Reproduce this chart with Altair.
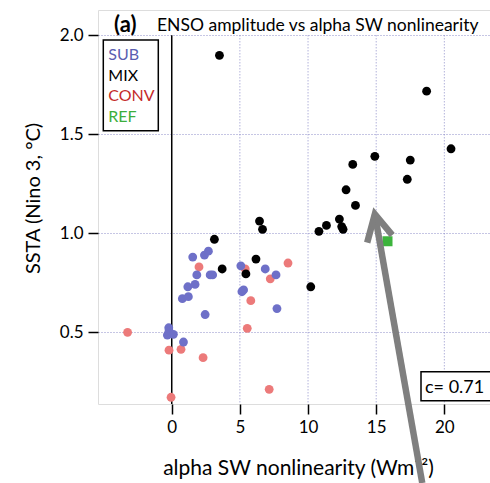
import altair as alt
import pandas as pd

# ---- data ----
sub_x = [1.54, 2.40, 2.69, 1.84, 2.82, 3.00, 5.07, 6.86, 7.65, 1.18, 1.71, 0.78, 1.22,
         5.15, 5.27, 2.45, 7.72, -0.22, -0.20, -0.32, 0.12, 0.86]
sub_y = [0.88, 0.89, 0.91, 0.79, 0.79, 0.79, 0.836, 0.82, 0.79, 0.73, 0.742, 0.67, 0.68,
         0.705, 0.714, 0.59, 0.62, 0.523, 0.506, 0.486, 0.49, 0.451]

mix_x = [3.50, 3.13, 6.44, 6.66, 3.70, 5.44, 6.18, 10.2, 10.8, 11.35, 12.3, 12.47, 12.57,
         13.48, 12.79, 13.28, 14.9, 17.5, 17.28, 18.7, 20.49]
mix_y = [1.899, 0.97, 1.062, 1.02, 0.82, 0.795, 0.87, 0.73, 1.01, 1.04, 1.072, 1.034, 1.02,
         1.141, 1.22, 1.348, 1.389, 1.37, 1.273, 1.718, 1.427]

conv_x = [2.0, 5.39, 7.23, 8.53, 5.8, -3.24, -0.2, 0.68, 2.3, 5.54, 7.15, -0.05]
conv_y = [0.83, 0.82, 0.77, 0.85, 0.66, 0.50, 0.41, 0.414, 0.372, 0.52, 0.212, 0.172]

ref_x = [15.83]
ref_y = [0.96]

legend_labels = ["SUB", "MIX", "CONV", "REF"]
legend_colors = ["#5a5eb0", "#000000", "#c42a2a", "#3cae3c"]

x_ticks = [0, 5, 10, 15, 20]
y_ticks = [0.5, 1.0, 1.5, 2.0]
x_domain = [-5.41, 23.35]
y_domain = [0.138, 2.128]

arrow_shaft_x = [18.38, 14.9]
arrow_shaft_y = [-0.261, 1.097]
arrow_head_x = [14.34, 14.9, 16.18]
arrow_head_y = [0.953, 1.097, 0.991]

corr_text = "c= 0.71"
title_tag = "(a)"
title_text = "ENSO amplitude vs alpha SW nonlinearity"

W, H = 392, 394
FONT = "Lato"

xs = alt.Scale(domain=x_domain, nice=False, zero=False)
ys = alt.Scale(domain=y_domain, nice=False, zero=False)

xa = alt.Axis(values=x_ticks, grid=False, domain=False, ticks=True, tickSize=10,
              tickColor="black", tickWidth=1.5, labelFontSize=17, labelFont=FONT,
              labelColor="black", labelPadding=5, title="alpha SW nonlinearity (Wm⁻²)",
              titleFontSize=21, titleFont=FONT, titleFontWeight="normal", titleColor="black",
              titleX=200, titleY=64, titleBaseline="middle", titleAlign="center")
ya = alt.Axis(values=y_ticks, format=".1f", grid=True, gridColor="#8c8cc8", gridDash=[1, 2],
              gridWidth=1, domain=False, ticks=True, tickSize=10, tickColor="black",
              tickWidth=1.5, labelFontSize=17, labelFont=FONT, labelColor="black",
              labelPadding=5, title="SSTA (Nino 3, °C)", titleFontSize=20, titleFont=FONT,
              titleFontWeight="normal", titleColor="black", titleX=-65, titleY=188,
              titleAngle=270, titleBaseline="middle", titleAlign="center")


def X(f):
    return alt.X(f, type="quantitative", scale=xs, axis=xa)


def Y(f):
    return alt.Y(f, type="quantitative", scale=ys, axis=ya)


one = pd.DataFrame({"a": [0]})

# x gridlines (stop at 2.0, below the title band)
grid_df = pd.DataFrame({"x": [v for v in x_ticks if v != 0],
                        "y": [2.0] * 4, "y2": [y_domain[0]] * 4})
xgrid = alt.Chart(grid_df).mark_rule(color="#8c8cc8", strokeDash=[1, 2], strokeWidth=1).encode(
    x=X("x"), y=Y("y"), y2="y2")

zero_df = pd.DataFrame({"x": [0], "y": [2.0], "y2": [y_domain[0]]})
zero = alt.Chart(zero_df).mark_rule(color="black", strokeWidth=1.5).encode(
    x=X("x"), y=Y("y"), y2="y2")


def pts(xv, yv, color, shape="circle", size=78):
    df = pd.DataFrame({"x": xv, "y": yv})
    return alt.Chart(df).mark_point(filled=True, shape=shape, size=size, color=color,
                                    opacity=1).encode(x=X("x"), y=Y("y"))


conv = pts(conv_x, conv_y, "#ec7a7a")
sub = pts(sub_x, sub_y, "#6e70c8")
mix = pts(mix_x, mix_y, "#000000")
ref = pts(ref_x, ref_y, "#3cb43c", shape="square", size=100)

# legend box
leg_box = alt.Chart(one).mark_rect(fill="white", stroke="black", strokeWidth=1.5).encode(
    x=alt.value(5.3), x2=alt.value(60.3), y=alt.value(30), y2=alt.value(120.7))
leg_texts = []
for i, (lab, col) in enumerate(zip(legend_labels, legend_colors)):
    leg_texts.append(
        alt.Chart(one).mark_text(align="left", baseline="middle", fontSize=16, font=FONT,
                                 color=col).encode(
            x=alt.value(10.3), y=alt.value(45 + i * 20.5), text=alt.value(lab)))

# title inside frame
t1 = alt.Chart(one).mark_text(align="left", baseline="alphabetic", fontSize=22, font=FONT,
                              fontWeight="bold", color="black").encode(
    x=alt.value(16), y=alt.value(21.5), text=alt.value(title_tag))
t2 = alt.Chart(one).mark_text(align="left", baseline="alphabetic", fontSize=17.5, font=FONT,
                              color="black").encode(
    x=alt.value(59), y=alt.value(21), text=alt.value(title_text))

# correlation box
c_box = alt.Chart(one).mark_rect(fill="white", stroke="black", strokeWidth=1.5, clip=False).encode(
    x=alt.value(323), x2=alt.value(400), y=alt.value(361.7), y2=alt.value(390.7))
c_txt = alt.Chart(one).mark_text(align="left", baseline="alphabetic", fontSize=18, font=FONT,
                                 color="black").encode(
    x=alt.value(327), y=alt.value(383), text=alt.value(corr_text))

# arrow
shaft_df = pd.DataFrame({"x": [arrow_shaft_x[0]], "y": [arrow_shaft_y[0]],
                         "x2": [arrow_shaft_x[1]], "y2": [arrow_shaft_y[1]]})
shaft = alt.Chart(shaft_df).mark_rule(color="#7f7f7f", strokeWidth=6.5, clip=False).encode(
    x=X("x"), y=Y("y"), x2="x2", y2="y2")
head_df = pd.DataFrame({"x": arrow_head_x, "y": arrow_head_y, "o": [0, 1, 2]})
head = alt.Chart(head_df).mark_line(color="#7f7f7f", strokeWidth=6.5, clip=False,
                                    strokeJoin="miter", strokeCap="butt").encode(
    x=X("x"), y=Y("y"), order="o:Q")

chart = alt.layer(
    xgrid, zero, conv, sub, mix, ref, leg_box, *leg_texts, t1, t2, c_box, c_txt, shaft, head
).properties(
    width=W, height=H,
    autosize=alt.AutoSizeParams(type="none"),
    padding={"left": 98, "top": 10, "right": 0, "bottom": 79},
).configure_view(
    stroke="black", strokeWidth=1.5
).configure(font=FONT)

chart.save("out.html", embed_options={"renderer": "svg", "actions": False})
